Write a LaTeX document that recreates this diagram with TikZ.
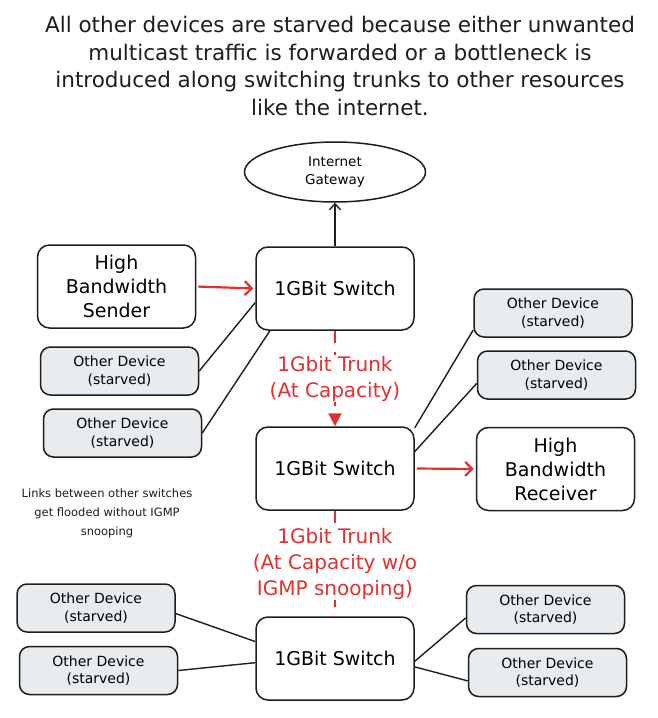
\documentclass[tikz,border=0pt]{standalone}
\usepackage{fontspec}
\setmainfont{DejaVu Sans}
\usetikzlibrary{shapes,arrows.meta,positioning}
\definecolor{ink}{HTML}{1E1E1E}
\definecolor{trunkred}{HTML}{E03131}
\definecolor{starvedgray}{HTML}{E9ECEF}

\begin{document}
\begin{tikzpicture}[x=1pt,y=-1pt]
\tikzset{box/.style={draw=ink,line width=1.5pt,rounded corners=12pt,fill=white,align=center,minimum width=158pt,minimum height=83pt,font=\fontsize{19}{24}\selectfont},
dev/.style={box,fill=starvedgray,rounded corners=10pt,minimum height=48pt,font=\fontsize{14}{17.5}\selectfont},
link/.style={draw=ink,line width=1.4pt},
hot/.style={draw=trunkred,line width=2.2pt,-{Straight Barb[length=7pt,width=14pt]}},
trunk/.style={draw=trunkred,line width=2.2pt,dash pattern=on 12pt off 9pt},
trunklabel/.style={fill=white,text=trunkred,align=center,inner sep=1pt,font=\fontsize{20}{26}\selectfont}}
\fill[white] (0,0) rectangle (657,718);
\useasboundingbox (0,0) rectangle (657,718);

\node[align=center,text=ink,font=\fontsize{21.5}{27.5}\selectfont] (title) at (340,66) {All other devices are starved because either unwanted\\multicast traffic is forwarded or a bottleneck is\\introduced along switching trunks to other resources\\like the internet.};

\node[draw=ink,line width=1.5pt,ellipse,minimum width=181pt,minimum height=60pt,inner sep=0pt,align=center,font=\fontsize{13.5}{18}\selectfont] (gw) at (335,172) {Internet\\Gateway};

\node[box] (sender) at (116.5,286.5) {High\\Bandwidth\\Sender};
\node[box] (sw1) at (335,288.5) {1GBit Switch};
\node[box] (sw2) at (335,468.5) {1GBit Switch};
\node[box] (rcv) at (555.5,469) {High\\Bandwidth\\Receiver};
\node[box] (sw3) at (335,658.5) {1GBit Switch};

\foreach \n/\x/\y in {odA/119.5/371, odB/122.5/433, odC/553/313, odD/556.5/375, odE/96/608, odF/98.5/670.5, odG/545.5/609.5, odH/547.5/672.5}
\node[dev] (\n) at (\x,\y) {Other Device\\(starved)};

\node[align=center,text=ink,font=\fontsize{11.5}{19}\selectfont] (note) at (107,513) {Links between other switches\\get flooded without IGMP\\snooping};

\draw[link,-{Straight Barb[length=6pt,width=11pt]}] (sw1.north) -- (gw.south);
\draw[hot,shorten <=2pt,shorten >=2pt] (sender.east) -- (sw1.west);
\draw[hot,shorten <=2pt,shorten >=2pt] (sw2.east) -- (rcv.west);

\draw[trunk,-{Triangle[length=13pt,width=13pt]}] (sw1.south) -- node[trunklabel] (t1) {1Gbit Trunk\\(At Capacity)} (sw2.north);
\draw[trunk] (sw2.south) -- node[trunklabel] (t2) {1Gbit Trunk\\(At Capacity w/o\\IGMP snooping)} (sw3.north);

\foreach \a/\b in {odA.east/sw1.190, odB.east/sw1.213, odC.192/sw2.27, odD.186/sw2.12, odE.356/sw3.168, odF.east/sw3.183, odG.186/sw3.358, odH.186/sw3.354}
\draw[link] (\a) -- (\b);
\end{tikzpicture}
\end{document}
